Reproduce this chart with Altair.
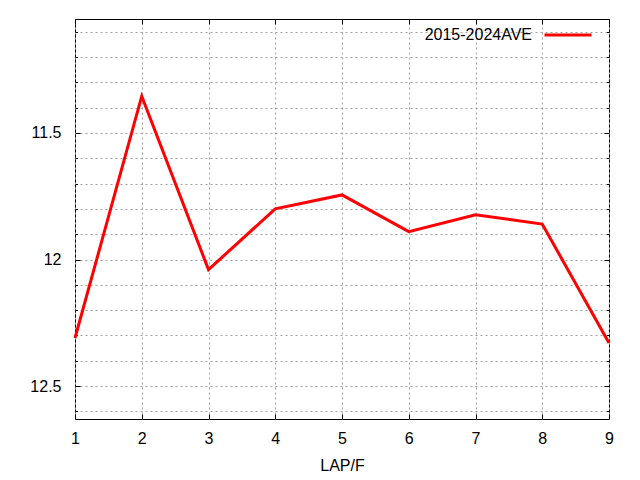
import altair as alt
import pandas as pd

laps = [1, 2, 3, 4, 5, 6, 7, 8, 9]
times = [12.31, 11.355, 12.04, 11.80, 11.745, 11.89, 11.823, 11.86, 12.33]
series_name = "2015-2024AVE"
x_ticks = [1, 2, 3, 4, 5, 6, 7, 8, 9]
y_ticks = [round(11.1 + 0.1 * i, 1) for i in range(16)]

df = pd.DataFrame({"lap": laps, "time": times, "series": [series_name] * len(laps)})

W, H = 534, 400
FONT = "Liberation Sans"
FS = 16
GRID = "#a0a0a0"
major_test = "abs(datum.value*2 - round(datum.value*2)) < 0.001"

xscale = alt.Scale(domain=[1, 9], nice=False, zero=False)
yscale = alt.Scale(domain=[11.05, 12.63], nice=False, zero=False, reverse=True)

base = alt.Chart(df)

main = base.mark_line(strokeWidth=3, strokeJoin="miter").encode(
    x=alt.X("lap:Q", scale=xscale,
            axis=alt.Axis(values=x_ticks, format="d", title="LAP/F", orient="bottom",
                          ticks=False, domain=False, grid=True, gridColor=GRID,
                          gridDash=[2, 3], gridWidth=1, labelPadding=11, titlePadding=11,
                          labelFlush=False, labelOverlap=False,
                          labelFontSize=FS, titleFontSize=FS, labelFont=FONT, titleFont=FONT,
                          titleFontWeight="normal", labelColor="black", titleColor="black")),
    y=alt.Y("time:Q", scale=yscale,
            axis=alt.Axis(values=y_ticks, orient="left", title=None,
                          labelExpr=f"({major_test}) ? format(datum.value, '~g') : ''",
                          ticks=False, domain=False, grid=True, gridColor=GRID,
                          gridDash=[2, 3], gridWidth=1, labelPadding=14,
                          labelFlush=False, labelOverlap=False,
                          labelFontSize=FS, labelFont=FONT, labelColor="black")),
    color=alt.Color("series:N", scale=alt.Scale(range=["#ff0000"]),
                    legend=alt.Legend(orient="none", legendX=468, legendY=-9, title=None,
                                      symbolType="stroke", symbolSize=2209,
                                      symbolStrokeWidth=3, labelFontSize=FS, labelFont=FONT,
                                      labelColor="black", labelAlign="right",
                                      labelOffset={"expr": "-61"},
                                      padding=0)),
)

tick_size_y = {"condition": {"test": major_test, "value": 5}, "value": 2.5}


def tick_layer(xorient, yorient):
    return base.mark_line(opacity=0).encode(
        x=alt.X("lap:Q", scale=xscale,
                axis=alt.Axis(values=x_ticks, orient=xorient, offset=-H, title=None,
                              labels=False, grid=False, domain=False, ticks=True,
                              tickSize=5, tickColor="black", tickWidth=1)),
        y=alt.Y("time:Q", scale=yscale,
                axis=alt.Axis(values=y_ticks, orient=yorient, offset=-W, title=None,
                              labels=False, grid=False, domain=False, ticks=True,
                              tickSize=tick_size_y, tickColor="black", tickWidth=1)),
    )


chart = alt.layer(
    main,
    tick_layer("top", "right"),
    tick_layer("bottom", "left"),
).resolve_axis(x="independent", y="independent").properties(
    width=W, height=H, autosize="none",
    padding={"left": 67, "top": 11, "right": 23, "bottom": 58},
).configure(font=FONT).configure_view(stroke="black", strokeWidth=1)

chart.save("out.html", embed_options={"renderer": "svg", "actions": False})
